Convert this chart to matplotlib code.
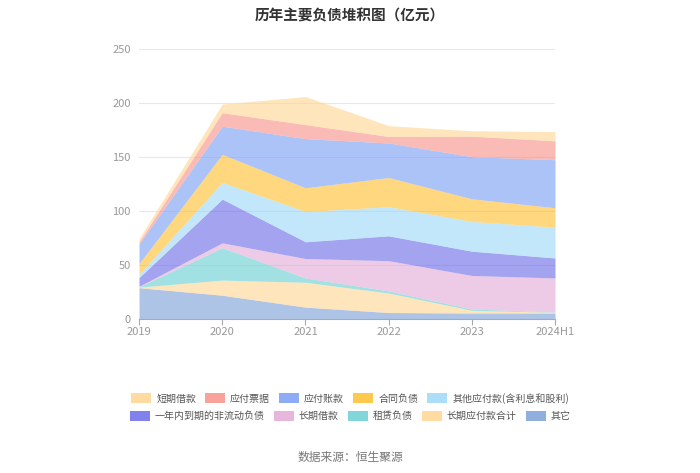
import matplotlib.pyplot as plt
from matplotlib.patches import Patch
import numpy as np

plt.rcParams['font.family'] = ['Noto Sans CJK SC', 'DejaVu Sans']

years = ['2019', '2020', '2021', '2022', '2023', '2024H1']

# bottom to top
other = [29, 22, 11, 6, 5.5, 5.5]
long_payable = [0.5, 14, 23, 18, 2.5, 0.7]
lease = [0.3, 30, 4, 2, 1.3, 0.3]
long_loan = [0.5, 4.5, 18, 28, 31, 31.5]
current_noncurrent = [8, 40.5, 15.5, 23, 22.5, 18.5]
other_payable = [3, 15.5, 28, 27, 27.5, 28.5]
contract = [10, 26, 22, 27, 21, 18]
accounts_payable = [18, 26, 45.5, 32, 39, 44.5]
notes_payable = [2, 12.5, 13, 6, 19, 17.5]
short_loan = [3, 8, 26, 10, 5, 8.5]

series = [
    ('其它', other, '#7DA1D9'),
    ('长期应付款合计', long_payable, '#FFD591'),
    ('租赁负债', lease, '#6ACFD2'),
    ('长期借款', long_loan, '#E3AAD6'),
    ('一年内到期的非流动负债', current_noncurrent, '#6B6BE8'),
    ('其他应付款(含利息和股利)', other_payable, '#9FD9F7'),
    ('合同负债', contract, '#FFBF2F'),
    ('应付账款', accounts_payable, '#7A9EF5'),
    ('应付票据', notes_payable, '#F7928A'),
    ('短期借款', short_loan, '#FFD591'),
]

fig = plt.figure(figsize=(7, 4.73), dpi=100)
ax = fig.add_axes([0.1986, 0.3256, 0.5943, 0.5708])

x = np.arange(len(years))
base = np.zeros(len(years))
for name, vals, col in series:
    top = base + np.array(vals)
    ax.fill_between(x, base, top, color=col, alpha=0.62, linewidth=0)
    base = top

ax.set_xlim(0, len(years) - 1)
ax.set_ylim(0, 250)
ax.set_yticks([0, 50, 100, 150, 200, 250])
ax.set_xticks(x)
ax.set_xticklabels(years)
ax.grid(axis='y', color='#E8E8E8', linewidth=0.8, zorder=0)
ax.set_axisbelow(True)
for s in ['top', 'right', 'left']:
    ax.spines[s].set_visible(False)
ax.spines['bottom'].set_color('#AAAAAA')
ax.tick_params(axis='y', length=0, colors='#999999', labelsize=8, pad=6)
ax.tick_params(axis='x', length=4, color='#AAAAAA', colors='#999999', labelsize=8, pad=2)

fig.suptitle('历年主要负债堆积图（亿元）', x=0.5, y=0.985, fontsize=10.5,
             fontweight='bold', color='#333333')

lookup = {n: c for n, v, c in series}
row1 = ['短期借款', '应付票据', '应付账款', '合同负债', '其他应付款(含利息和股利)']
row2 = ['一年内到期的非流动负债', '长期借款', '租赁负债', '长期应付款合计', '其它']
for row, yy in [(row1, 0.158), (row2, 0.120)]:
    handles = [Patch(facecolor=lookup[n], edgecolor='none', alpha=0.85, label=n) for n in row]
    leg = fig.legend(handles=handles, loc='center', bbox_to_anchor=(0.5, yy), ncol=5,
                     frameon=False, fontsize=7.2, handlelength=2.0, handleheight=1.1,
                     columnspacing=0.9, handletextpad=0.5)
    for t in leg.get_texts():
        t.set_color('#555555')

fig.text(0.5, 0.032, '数据来源：恒生聚源', ha='center', va='center', fontsize=8.5, color='#777777')

fig.savefig('out.png', dpi=100)
